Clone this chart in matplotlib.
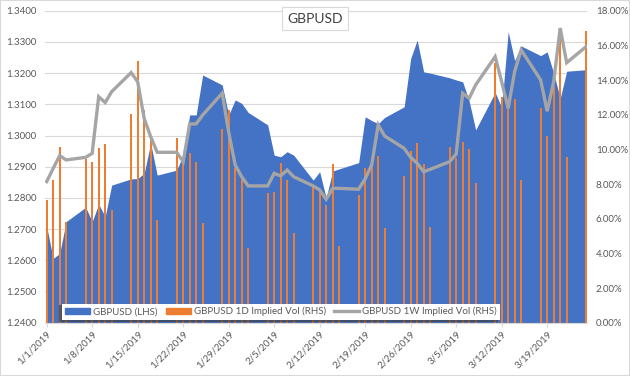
import pandas as pd
import matplotlib
matplotlib.use("Agg")
import matplotlib.pyplot as plt
import matplotlib.dates as mdates
import matplotlib.ticker as mtick
from matplotlib.patches import Patch, Rectangle
from matplotlib.lines import Line2D

plt.rcParams['font.family'] = ['Lato', 'DejaVu Sans']

# business days shown on the chart
day_labels = [
    "2019-01-01", "2019-01-02", "2019-01-03", "2019-01-04", "2019-01-07", "2019-01-08",
    "2019-01-09", "2019-01-10", "2019-01-11", "2019-01-14", "2019-01-15", "2019-01-16",
    "2019-01-17", "2019-01-18", "2019-01-21", "2019-01-22", "2019-01-23", "2019-01-24",
    "2019-01-25", "2019-01-28", "2019-01-29", "2019-01-30", "2019-01-31", "2019-02-01",
    "2019-02-04", "2019-02-05", "2019-02-06", "2019-02-07", "2019-02-08", "2019-02-11",
    "2019-02-12", "2019-02-13", "2019-02-14", "2019-02-15", "2019-02-18", "2019-02-19",
    "2019-02-20", "2019-02-21", "2019-02-22", "2019-02-25", "2019-02-26", "2019-02-27",
    "2019-02-28", "2019-03-01", "2019-03-04", "2019-03-05", "2019-03-06", "2019-03-07",
    "2019-03-08", "2019-03-11", "2019-03-12", "2019-03-13", "2019-03-14", "2019-03-15",
    "2019-03-18", "2019-03-19", "2019-03-20", "2019-03-21", "2019-03-22", "2019-03-25",
]

gbpusd = [
    1.2708, 1.2606, 1.2622, 1.2724, 1.2770, 1.2724, 1.2780, 1.2740, 1.2841, 1.2861,
    1.2862, 1.2879, 1.2975, 1.2873, 1.2889, 1.2937, 1.3066, 1.3066, 1.3194, 1.3162,
    1.3066, 1.3114, 1.3103, 1.3074, 1.3034, 1.2937, 1.2932, 1.2948, 1.2937, 1.2857,
    1.2884, 1.2800, 1.2886, 1.2893, 1.2913, 1.3060, 1.3048, 1.3038, 1.3058, 1.3092,
    1.3247, 1.3306, 1.3204, 1.3200, 1.3185, 1.3178, 1.3172, 1.3110, 1.3018, 1.3138,
    1.3090, 1.3333, 1.3240, 1.3287, 1.3256, 1.3268, 1.3200, 1.3119, 1.3206, 1.3211,
]

vol_1d = [
    7.08, 8.23, 10.16, 5.83, 9.45, 9.25, 10.06, 10.33, 6.50, 12.02,
    15.10, 12.27, 10.64, 5.93, 10.64, 9.39, 9.77, 9.29, 5.77, 11.16,
    12.27, 8.91, 8.42, 4.29, 7.47, 7.56, 9.20, 8.23, 5.16, 7.95,
    7.60, 6.79, 9.16, 4.43, 7.37, 8.91, 9.00, 9.62, 5.45, 8.47,
    9.90, 10.35, 9.16, 5.54, 10.16, 9.49, 10.41, 10.02, 8.04, 14.97,
    13.04, 12.85, 12.90, 8.23, 12.37, 10.77, 13.62, 16.40, 9.58, 16.83,
]

vol_1w = [
    8.14, 8.90, 9.64, 9.39, 9.54, 9.77, 13.04, 12.70, 13.33, 14.43,
    13.90, 11.79, 10.73, 9.83, 9.83, 9.29, 11.47, 11.47, 11.98, 13.24,
    11.00, 9.10, 8.42, 7.89, 7.89, 8.62, 8.47, 8.81, 8.42, 7.89,
    7.66, 7.12, 7.75, 7.75, 7.70, 8.30, 9.10, 11.41, 10.77, 10.06,
    9.54, 9.20, 8.71, 8.85, 9.29, 9.73, 13.24, 12.95, 13.72, 15.35,
    13.90, 12.37, 14.50, 15.74, 14.00, 12.20, 13.90, 17.00, 15.00, 15.93,
]

tick_days = ["2019-01-01", "2019-01-08", "2019-01-15", "2019-01-22", "2019-01-29", "2019-02-05",
             "2019-02-12", "2019-02-19", "2019-02-26", "2019-03-05", "2019-03-12", "2019-03-19"]

blue = '#4472C4'
orange = '#ED7D31'
grey = '#A5A5A5'
text_col = '#595959'

dates = pd.to_datetime(day_labels)
x = mdates.date2num(dates)

fig = plt.figure(figsize=(6.3, 3.76), dpi=100)
ax1 = fig.add_axes([0.0714, 0.1418, 0.8611, 0.8297])

# price area on the left axis
ax1.fill_between(x, 1.24, gbpusd, color=blue, lw=0, zorder=2)
ax1.set_ylim(1.24, 1.34)
ax1.set_yticks([1.24 + 0.01 * i for i in range(11)])
ax1.yaxis.set_major_formatter(mtick.FormatStrFormatter('%.4f'))
ax1.yaxis.grid(True, color='#D9D9D9', lw=0.8, zorder=0)
ax1.set_axisbelow(True)

# implied vols on the right axis
ax2 = ax1.twinx()
ax2.bar(x, vol_1d, width=0.3, color=orange, zorder=3)
ax2.plot(x, vol_1w, color=grey, lw=2.4, zorder=4, solid_joinstyle='miter')
ax2.set_ylim(0, 18)
ax2.set_yticks(range(0, 19, 2))
ax2.yaxis.set_major_formatter(mtick.FuncFormatter(lambda v, p: f'{v:.2f}%'))

ax1.set_xlim(x[0] - 0.26, x[-1] + 0.2)
ticks = mdates.date2num(pd.to_datetime(tick_days))
ax1.set_xticks(ticks)
ax1.set_xticklabels([f'{d.month}/{d.day}/{d.year}' for d in pd.to_datetime(tick_days)],
                    rotation=45, ha='right', rotation_mode='anchor')

for ax in (ax1, ax2):
    for s in ax.spines.values():
        s.set_visible(False)
    ax.tick_params(axis='y', length=0, labelsize=7, labelcolor=text_col, pad=6)
ax1.spines['bottom'].set_visible(True)
ax1.spines['bottom'].set_color('#D9D9D9')
ax1.tick_params(axis='x', length=3, color='#D9D9D9', labelsize=7, labelcolor=text_col, pad=2)

handles = [Patch(color=blue), Patch(color=orange), Line2D([], [], color=grey, lw=2.4)]
names = ['GBPUSD (LHS)', 'GBPUSD 1D Implied Vol (RHS)', 'GBPUSD 1W Implied Vol (RHS)']
leg = ax2.legend(handles, names, loc='lower left', bbox_to_anchor=(0.031, 0.009, 0.808, 0.059),
                 mode='expand', ncol=3, fontsize=7, frameon=True, fancybox=False,
                 facecolor='white', edgecolor='none', framealpha=1, borderpad=0.35,
                 borderaxespad=0, handlelength=2.6, handleheight=0.6, handletextpad=0.3,
                 columnspacing=1.5,
                 shadow={'ox': -2, 'oy': -1, 'color': '#404040', 'alpha': 0.6})
for t in leg.get_texts():
    t.set_color(text_col)
leg.set_zorder(10)

fig.text(0.5, 0.9505, 'GBPUSD', ha='center', va='center', fontsize=10, color='#404040',
         bbox=dict(boxstyle='square,pad=0.4', fc='white', ec='#D9D9D9', lw=0.8))

fig.patches.append(Rectangle((0, 0), 1, 1, transform=fig.transFigure, fill=False,
                             ec='#D9D9D9', lw=1.5))

fig.savefig('out.png', dpi=100)
